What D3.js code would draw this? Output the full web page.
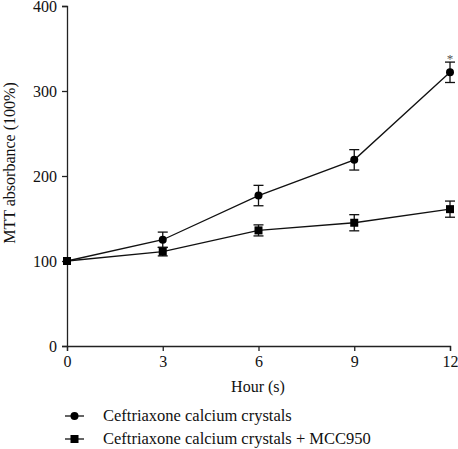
<!DOCTYPE html>
<html><head><meta charset="utf-8">
<script src="https://cdn.jsdelivr.net/npm/d3@7"></script>
<style>body{margin:0;background:#fff}svg{display:block}text{font-family:"Liberation Serif","Times New Roman",serif}</style>
</head><body><svg id="c" width="458" height="449"></svg>
<script>
const hours = [0, 3, 6, 9, 12];
const xTicks = [0, 3, 6, 9, 12];
const yTicks = [0, 100, 200, 300, 400];
const seriesNames = ["Ceftriaxone calcium crystals", "Ceftriaxone calcium crystals + MCC950"];
const circleValues = [100, 125, 177, 219, 322];
const circleErrors = [0, 9, 12, 12, 12];
const squareValues = [100, 111, 136, 145, 161];
const squareErrors = [0, 5, 6.5, 9.5, 9.5];
const significance = ["", "", "", "", "*"];

const svg = d3.select("#c");
const x = d3.scaleLinear().domain([0, 12]).range([67, 450]);
const y = d3.scaleLinear().domain([0, 400]).range([346, 6]);

function styleAxis(g) {
  g.attr("font-family", null).attr("font-size", null);
  g.select(".domain").attr("stroke", "#222").attr("stroke-width", 1.3);
  g.selectAll("line").attr("stroke", "#222").attr("stroke-width", 1.3);
  g.selectAll("text").style("font-size", "16px").style("fill", "#111");
}
svg.append("g").attr("transform", "translate(0,346)")
  .call(d3.axisBottom(x).tickValues(xTicks).tickSize(5).tickPadding(5)).call(styleAxis);
svg.append("g").attr("transform", "translate(67,0)")
  .call(d3.axisLeft(y).tickValues(yTicks).tickSize(5).tickPadding(5)).call(styleAxis);

svg.append("text").attr("x", 258).attr("y", 392).attr("text-anchor", "middle").style("font-size", "16px").style("fill", "#111").text("Hour (s)");
svg.append("text").attr("transform", "translate(15,163) rotate(-90)").attr("text-anchor", "middle").style("font-size", "16px").style("fill", "#111").text("MTT absorbance (100%)");

function drawSeries(vals, errs, shape) {
  const data = hours.map((h, i) => ({h, v: vals[i], e: errs[i]}));
  const g = svg.append("g");
  g.append("path").datum(data).attr("fill", "none").attr("stroke", "#111").attr("stroke-width", 1.3)
    .attr("d", d3.line().x(d => x(d.h)).y(d => y(d.v)));
  const eb = g.selectAll(".eb").data(data.filter(d => d.e > 0)).enter().append("g");
  eb.append("line").attr("x1", d => x(d.h)).attr("x2", d => x(d.h)).attr("y1", d => y(d.v + d.e)).attr("y2", d => y(d.v - d.e)).attr("stroke", "#111").attr("stroke-width", 1.3);
  [1, -1].forEach(s => eb.append("line").attr("x1", d => x(d.h) - 5).attr("x2", d => x(d.h) + 5)
    .attr("y1", d => y(d.v + s * d.e)).attr("y2", d => y(d.v + s * d.e)).attr("stroke", "#111").attr("stroke-width", 1.3));
  if (shape === "circle") {
    g.selectAll(".m").data(data).enter().append("circle").attr("cx", d => x(d.h)).attr("cy", d => y(d.v)).attr("r", 4).attr("fill", "#000");
  } else {
    g.selectAll(".m").data(data).enter().append("rect").attr("x", d => x(d.h) - 4).attr("y", d => y(d.v) - 4).attr("width", 8).attr("height", 8).attr("fill", "#000");
  }
  return data;
}
const cData = drawSeries(circleValues, circleErrors, "circle");
drawSeries(squareValues, squareErrors, "square");
svg.selectAll(".sig").data(cData.map((d, i) => ({...d, s: significance[i]})).filter(d => d.s)).enter().append("text")
  .attr("x", d => x(d.h)).attr("y", d => y(d.v + d.e) + 1).attr("text-anchor", "middle").style("font-size", "13px").style("fill", "#555").text(d => d.s);

// legend
const leg = svg.append("g");
seriesNames.forEach((name, i) => {
  const yy = 416 + i * 23;
  leg.append("line").attr("x1", 65).attr("x2", 84).attr("y1", yy).attr("y2", yy).attr("stroke", "#111").attr("stroke-width", 1.3);
  if (i === 0) leg.append("circle").attr("cx", 74.5).attr("cy", yy).attr("r", 4).attr("fill", "#000");
  else leg.append("rect").attr("x", 70.5).attr("y", yy - 4).attr("width", 8).attr("height", 8).attr("fill", "#000");
  leg.append("text").attr("x", 103).attr("y", yy + 5).style("font-size", "16.5px").style("fill", "#111").text(name);
});
</script></body></html>
